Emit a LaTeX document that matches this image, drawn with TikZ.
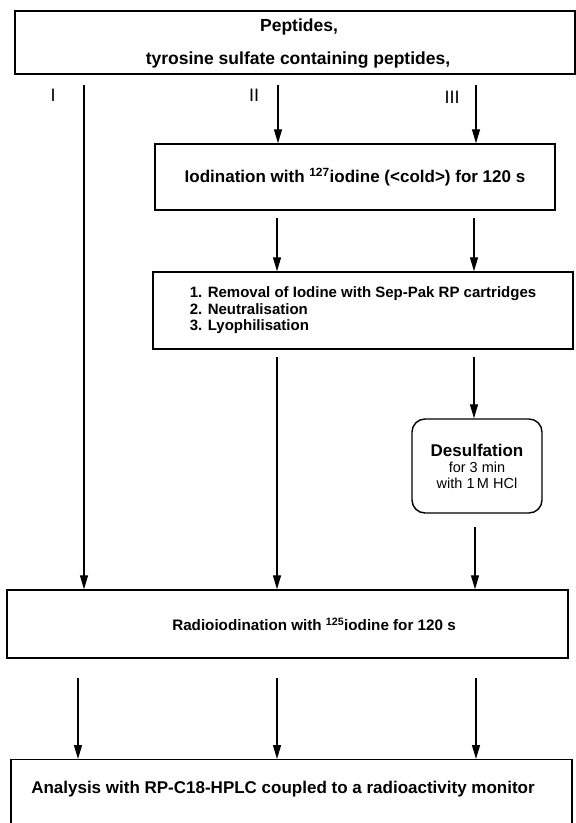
\documentclass[tikz,border=0pt]{standalone}
\usepackage{fontspec}
\setmainfont{Liberation Sans}
\usetikzlibrary{arrows.meta}

\begin{document}
\begin{tikzpicture}[x=1pt, y=-1pt,
flowbox/.style={draw=black, line width=1.4pt, inner sep=0pt, font=\fontsize{17}{20}\selectfont\bfseries, align=center},
flowtext/.style={inner sep=0pt, font=\fontsize{17}{20}\selectfont\bfseries},
pathlabel/.style={inner sep=0pt, font=\fontsize{18}{20}\selectfont},
flowarrow/.style={line width=1.3pt, -{Triangle[length=14pt, width=8pt]}},
]
    \useasboundingbox (0,0) rectangle (576,823);

    % boxes
    \node [flowbox, minimum width=560, minimum height=63] (pep) at (295,42.5) {};
    \node [flowtext, font=\fontsize{17.5}{20}\selectfont\bfseries] (peptext) at (299,27) {Peptides,};
    \node [flowtext, font=\fontsize{17.5}{20}\selectfont\bfseries] (tyrtext) at (298,60)
        {tyrosine sulfate containing peptides,};
    \node [flowbox, minimum width=400, minimum height=66] (iod) at (355,177)
        {Iodination with \textsuperscript{127}iodine (<cold>) for 120 s};
    \node [flowbox, minimum width=420, minimum height=77, align=left,
           font=\fontsize{15}{16.5}\selectfont\bfseries] (rem) at (363,310.5)
        {1. Removal of Iodine with Sep-Pak RP cartridges\\
         2. Neutralisation\\
         3. Lyophilisation};
    \node [flowbox, minimum width=130, minimum height=94, rounded corners=13pt,
           font=\fontsize{14.5}{16}\selectfont] (desulf) at (477,466)
        {{\fontsize{17}{20}\selectfont\bfseries Desulfation}\\ for 3 min\\ with 1\,M HCl};
    \node [flowbox, minimum width=561, minimum height=68] (radio) at (287.5,624) {};
    \node [flowtext, font=\fontsize{15.2}{18}\selectfont\bfseries] (radiotext) at (314,624)
        {Radioiodination with \textsuperscript{125}iodine for 120 s};
    \node [flowbox, minimum width=561, minimum height=100, anchor=north] (ana) at (291.5,759) {};
    \node [flowtext] (anatext) at (283,789)
        {Analysis with RP-C18-HPLC coupled to a radioactivity monitor};

    % routes
    \node [pathlabel] (r1) at (53,95) {I};
    \node [pathlabel] (r2) at (254,95) {II};
    \node [pathlabel] (r3) at (452,97) {III};

    \coordinate (a1) at (84,85);
    \coordinate (a2) at (278,85);
    \coordinate (a3) at (476,85);
    \coordinate (b2) at (277,218);
    \coordinate (b3) at (474,218);
    \coordinate (c2) at (277,357);
    \coordinate (c3) at (474,357);
    \coordinate (d3) at (475,527);
    \coordinate (e1) at (78,678);
    \coordinate (e2) at (277,678);
    \coordinate (e3) at (476,678);

    \draw [flowarrow] (a1) -- (a1 |- radio.north);
    \draw [flowarrow] (a2) -- (a2 |- iod.north);
    \draw [flowarrow] (a3) -- (a3 |- iod.north);
    \draw [flowarrow] (b2) -- (b2 |- rem.north);
    \draw [flowarrow] (b3) -- (b3 |- rem.north);
    \draw [flowarrow] (c2) -- (c2 |- radio.north);
    \draw [flowarrow] (c3) -- (c3 |- desulf.north);
    \draw [flowarrow] (d3) -- (d3 |- radio.north);
    \draw [flowarrow] (e1) -- (e1 |- ana.north);
    \draw [flowarrow] (e2) -- (e2 |- ana.north);
    \draw [flowarrow] (e3) -- (e3 |- ana.north);
\end{tikzpicture}
\end{document}
